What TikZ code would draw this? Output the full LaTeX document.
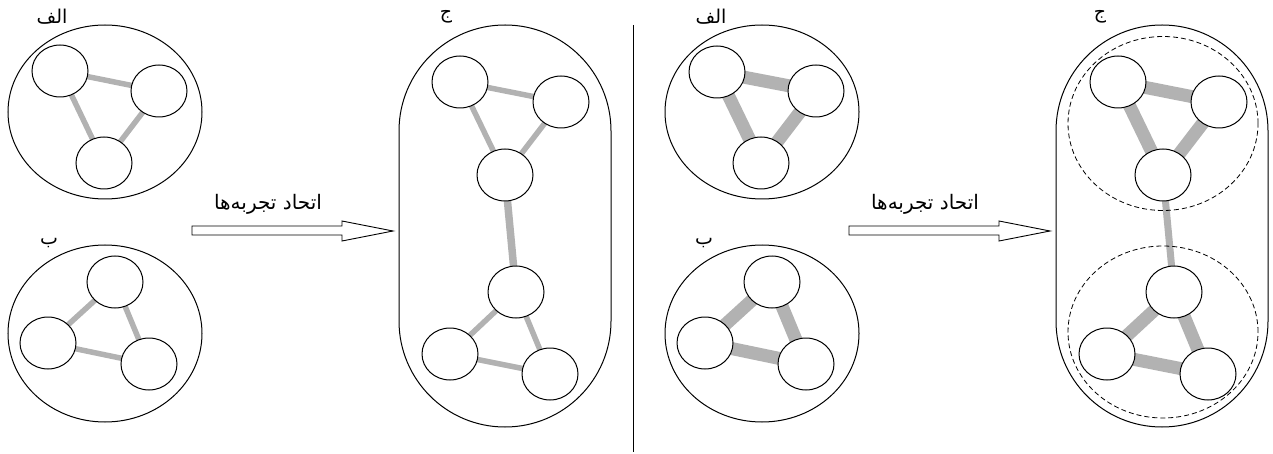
\documentclass[tikz,border=0pt]{standalone}
\usepackage{fontspec}
\newfontfamily\arabicfont[Script=Arabic]{DejaVu Sans}
\TeXXeTstate=1
\usetikzlibrary{shapes.geometric,backgrounds}
\begin{document}
\begin{tikzpicture}[x=1pt,y=-1pt,
  ell/.style={draw,fill=white,ellipse,line width=1pt,minimum width=56pt,minimum height=52pt,inner sep=0pt,outer sep=0pt},
  grp/.style={draw,ellipse,line width=1pt,minimum width=194pt,minimum height=174pt,inner sep=0pt},
  pill/.style={draw,line width=1pt,rounded corners=105.9pt,minimum width=212pt,minimum height=402pt,inner sep=0pt},
  dgrp/.style={draw,dashed,dash pattern=on 5pt off 3pt,ellipse,line width=0.8pt,minimum width=190pt,minimum height=174pt,inner sep=0pt},
  thinedge/.style={line width=5.5pt,draw=gray!60},
  thickedge/.style={line width=13pt,draw=gray!60},
  linkedge/.style={line width=7.5pt,draw=gray!60},
  lbl/.style={font=\fontsize{19}{22}\arabicfont,inner sep=0pt},
  tlbl/.style={font=\fontsize{20}{24}\arabicfont,inner sep=0pt},
  blockarrow/.style={draw,line width=0.9pt,fill=white}
]
\useasboundingbox (0,0) rectangle (1273,454);

% ---------- left half ----------
\node[grp] (GA) at (105,112) {};
\node[grp,minimum height=177pt] (GB) at (105,333.5) {};
\node[lbl] (LA) at (52,17) {\beginR الف\endR};
\node[lbl] (LB) at (49,243) {\beginR ب\endR};
\node[ell] (a1) at (60,71) {};
\node[ell] (a2) at (159,91) {};
\node[ell] (a3) at (104,163) {};
\node[ell] (b1) at (115,282) {};
\node[ell] (b2) at (48,343) {};
\node[ell] (b3) at (149,364) {};

\node[pill] (C) at (505,226) {};
\node[lbl] (LC) at (446,17) {\beginR ج\endR};
\node[ell] (c1) at (460,82) {};
\node[ell] (c2) at (561,102) {};
\node[ell] (c3) at (505,175) {};
\node[ell] (c4) at (516,292) {};
\node[ell] (c5) at (450,354) {};
\node[ell] (c6) at (550,374) {};

\begin{pgfonlayer}{background}
  \draw[thinedge] (a1.center) -- (a2.center);
  \draw[thinedge] (a1.center) -- (a3.center);
  \draw[thinedge] (a2.center) -- (a3.center);
  \draw[thinedge] (b1.center) -- (b2.center);
  \draw[thinedge] (b1.center) -- (b3.center);
  \draw[thinedge] (b2.center) -- (b3.center);
  \draw[thinedge] (c1.center) -- (c2.center);
  \draw[thinedge] (c1.center) -- (c3.center);
  \draw[thinedge] (c2.center) -- (c3.center);
  \draw[linkedge] (c3.center) -- (c4.center);
  \draw[thinedge] (c4.center) -- (c5.center);
  \draw[thinedge] (c4.center) -- (c6.center);
  \draw[thinedge] (c5.center) -- (c6.center);
\end{pgfonlayer}

\draw[blockarrow] (192,226) -- (342,226) -- (342,221) -- (393,231) -- (342,241) -- (342,235) -- (192,235) -- cycle;
\node[tlbl] (T1) at (268,204) {\beginR اتحاد تجربه‌ها\endR};

% ---------- separator ----------
\coordinate (s1) at (633,25);
\coordinate (s2) at (633,452);
\draw[line width=1pt] (s1) -- (s2);

% ---------- right half ----------
\node[grp] (RGA) at (762,112) {};
\node[grp,minimum height=177pt] (RGB) at (762,333.5) {};
\node[lbl] (RLA) at (711,17) {\beginR الف\endR};
\node[lbl] (RLB) at (704,243) {\beginR ب\endR};
\node[ell] (ra1) at (717,72) {};
\node[ell] (ra2) at (816,91) {};
\node[ell] (ra3) at (761,163) {};
\node[ell] (rb1) at (772,282) {};
\node[ell] (rb2) at (705,343) {};
\node[ell] (rb3) at (806,364) {};

\node[pill] (RC) at (1162,226) {};
\node[dgrp] (RD1) at (1163,123.5) {};
\node[dgrp,minimum height=172pt] (RD2) at (1163,332) {};
\node[lbl] (RLC) at (1100,17) {\beginR ج\endR};
\node[ell] (rc1) at (1118,82) {};
\node[ell] (rc2) at (1219,102) {};
\node[ell] (rc3) at (1163,175) {};
\node[ell] (rc4) at (1174,292) {};
\node[ell] (rc5) at (1107,354) {};
\node[ell] (rc6) at (1208,374) {};

\begin{pgfonlayer}{background}
  \draw[thickedge] (ra1.center) -- (ra2.center);
  \draw[thickedge] (ra1.center) -- (ra3.center);
  \draw[thickedge] (ra2.center) -- (ra3.center);
  \draw[thickedge] (rb1.center) -- (rb2.center);
  \draw[thickedge] (rb1.center) -- (rb3.center);
  \draw[thickedge] (rb2.center) -- (rb3.center);
  \draw[thickedge] (rc1.center) -- (rc2.center);
  \draw[thickedge] (rc1.center) -- (rc3.center);
  \draw[thickedge] (rc2.center) -- (rc3.center);
  \draw[line width=7pt,draw=gray!60] (rc3.center) -- (rc4.center);
  \draw[thickedge] (rc4.center) -- (rc5.center);
  \draw[thickedge] (rc4.center) -- (rc6.center);
  \draw[thickedge] (rc5.center) -- (rc6.center);
\end{pgfonlayer}

\draw[blockarrow] (849,226) -- (999,226) -- (999,221) -- (1050,231) -- (999,241) -- (999,235) -- (849,235) -- cycle;
\node[tlbl] (T2) at (925,204) {\beginR اتحاد تجربه‌ها\endR};
\end{tikzpicture}
\end{document}
